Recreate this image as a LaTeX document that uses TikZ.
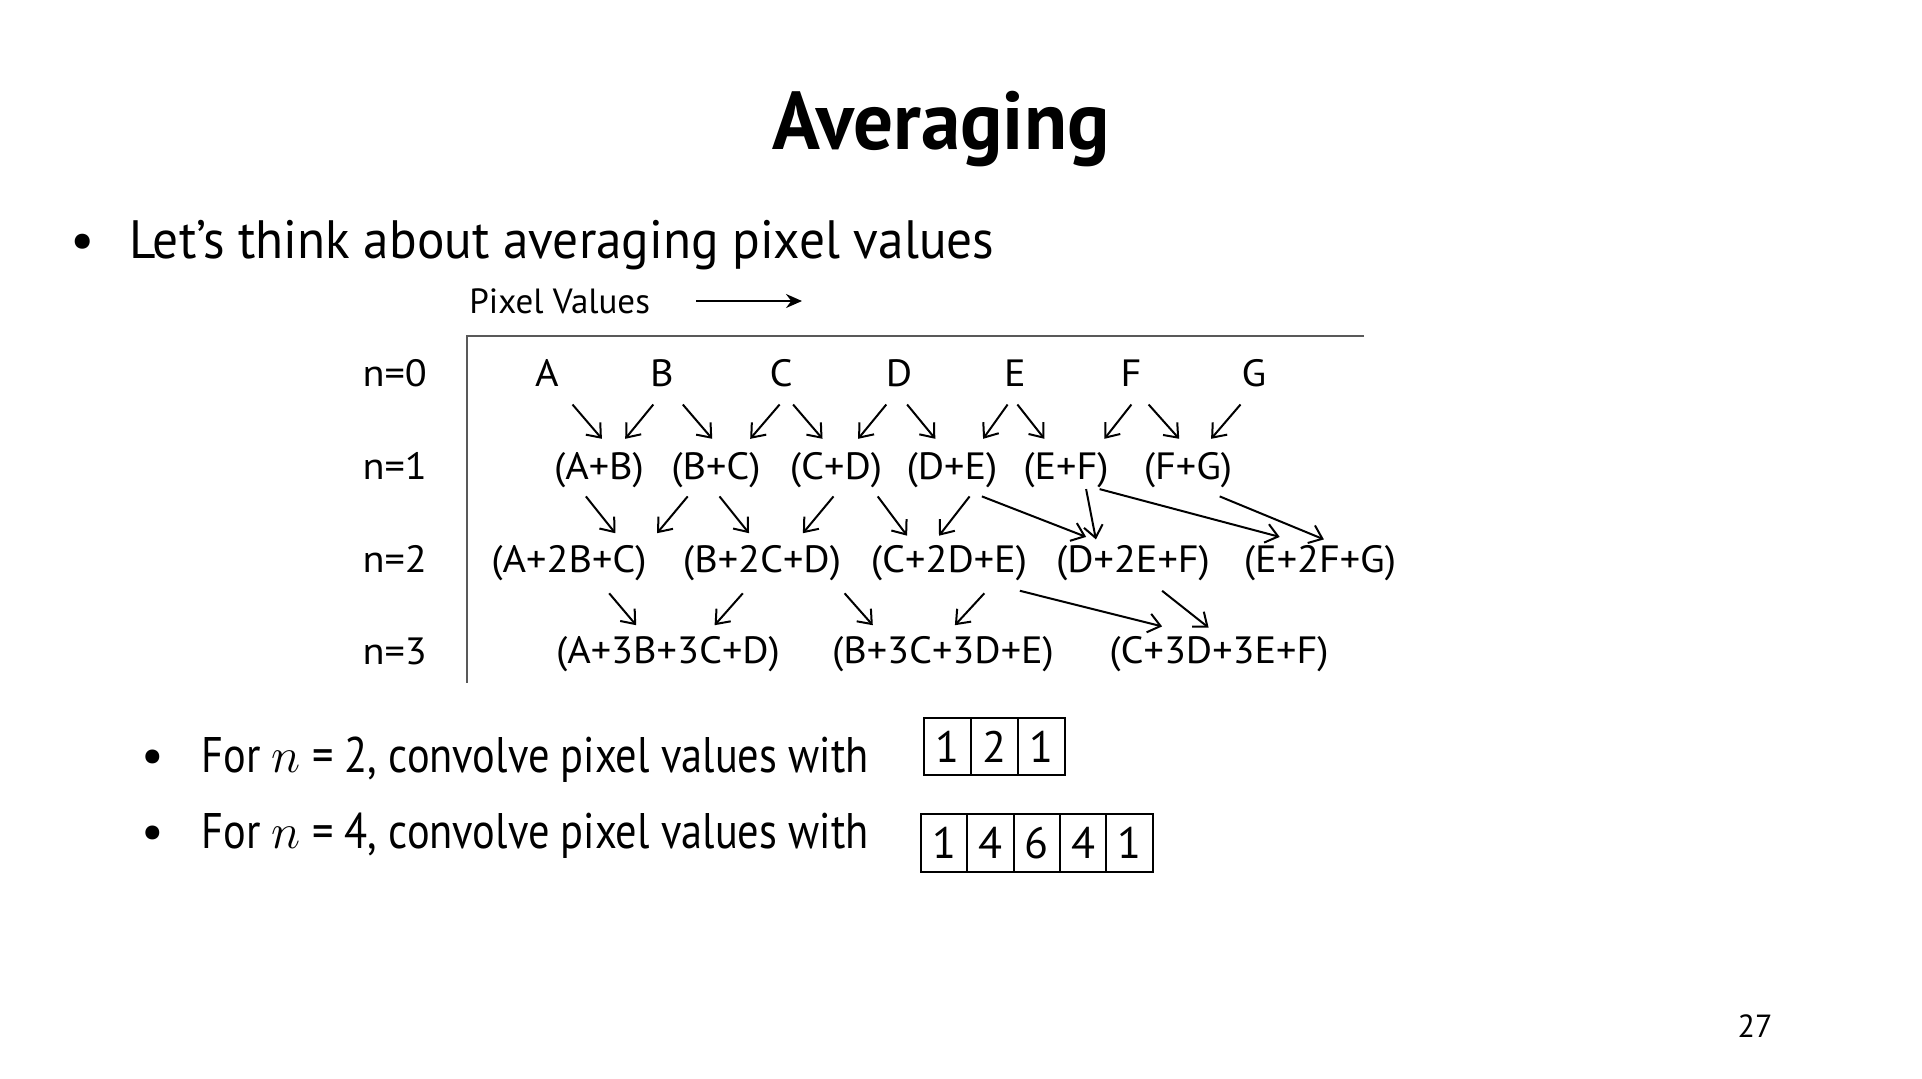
\documentclass[tikz,border=0pt]{standalone}
\usepackage{fontspec}
\setmainfont{PT Sans}
\newfontfamily\titlefont[FakeStretch=0.965]{PT Sans}
\newfontfamily\mainfontx[FakeStretch=0.95]{PT Sans}
\newfontfamily\subfont[FakeStretch=0.848]{PT Sans}
\newfontfamily\diagfont[FakeStretch=1.06]{PT Sans}
\usetikzlibrary{arrows.meta}
\begin{document}
\begin{tikzpicture}[x=0.5pt,y=-0.5pt,
  txt/.style={inner sep=0pt, anchor=base, font=\diagfont\fontsize{19}{22}\selectfont},
  bul/.style={inner sep=0pt, anchor=base west, font=\subfont\fontsize{25}{30}\selectfont},
  arr/.style={-{Straight Barb[length=6pt,width=9.5pt]}, line width=1pt},
  cell/.style={draw, line width=1pt, minimum width=23.5pt, minimum height=28.5pt, inner sep=0pt, font=\fontsize{22}{26}\selectfont}]
\useasboundingbox (0,0) rectangle (1922,1078);
% title and bullet
\node[inner sep=0pt, anchor=base, font=\titlefont\fontsize{41}{48}\selectfont\bfseries] (title) at (941,149.5) {Averaging};
\node[inner sep=0pt, anchor=base, font=\fontsize{27}{32}\selectfont] (b0) at (83,258.6) {•};
\node[inner sep=0pt, anchor=base west, font=\mainfontx\fontsize{27}{32}\selectfont] (l0) at (129,258.6) {Let’s think about averaging pixel values};
% pixel values header
\node[inner sep=0pt, anchor=base west, font=\fontsize{17.5}{20}\selectfont] (pv) at (469,313.8) {Pixel Values};
\coordinate (pva) at (696,301);
\coordinate (pvb) at (802,301);
\draw[-{Stealth[length=8pt,width=7pt]}, line width=1pt] (pva) -- (pvb);
% frame
\coordinate (fr1) at (1364,336);
\coordinate (fr0) at (467,336);
\coordinate (fr2) at (467,683);
\draw[black!65, line width=0.9pt] (fr1) -- (fr0) -- (fr2);
% row labels
\node[txt] (n0) at (394.7,386) {n=0};
\node[txt] (n1) at (394.7,479.3) {n=1};
\node[txt] (n2) at (394.7,572.4) {n=2};
\node[txt] (n3) at (394.7,664) {n=3};
% row 0
\node[txt] (A) at (547,386) {A};
\node[txt] (B) at (662,386) {B};
\node[txt] (C) at (781,386) {C};
\node[txt] (D) at (899,386) {D};
\node[txt] (E) at (1015,386) {E};
\node[txt] (F) at (1131,386) {F};
\node[txt] (G) at (1254,386) {G};
% row 1
\node[txt] (AB) at (599,479.3) {(A+B)};
\node[txt] (BC) at (716,479.3) {(B+C)};
\node[txt] (CD) at (836,479.3) {(C+D)};
\node[txt] (DE) at (952,479.3) {(D+E)};
\node[txt] (EF) at (1066,479.3) {(E+F)};
\node[txt] (FG) at (1188,479.3) {(F+G)};
% row 2
\node[txt] (ABC) at (569,572.4) {(A+2B+C)};
\node[txt] (BCD) at (762,572.4) {(B+2C+D)};
\node[txt] (CDE) at (949,572.4) {(C+2D+E)};
\node[txt] (DEF) at (1133,572.4) {(D+2E+F)};
\node[txt] (EFG) at (1320,572.4) {(E+2F+G)};
% row 3
\node[txt] (ABCD) at (668,663) {(A+3B+3C+D)};
\node[txt] (BCDE) at (943,663) {(B+3C+3D+E)};
\node[txt] (CDEF) at (1219,663) {(C+3D+3E+F)};
% arrows row 0 -> 1
\foreach \xa/\xb in {572.5/601.9, 653.3/625.2, 682.8/712.2, 779.6/750.2, 793.1/822.5, 886.3/858.1, 907.1/935.3, 1007.6/983.1, 1017.4/1044.4, 1131.4/1104.4, 1148.6/1179.2, 1240.5/1211.1}
  \draw[arr] (\xa,404.5) -- (\xb,438.8);
% arrows row 1 -> 2
\foreach \xa/\ya/\xb/\yb in {585.9/496.4/615.3/533.2, 687.7/496.4/657.0/533.2, 719.5/496.4/749.0/533.2, 833.5/496.4/802.9/533.2, 877.7/496.4/907.1/535.7, 969.6/496.4/939.0/535.7, 981.9/496.4/1086.1/536.9, 1086.1/489.1/1095.9/539.4, 1099.6/489.1/1279.7/536.9, 1219.7/496.4/1323.9/539.4}
  \draw[arr] (\xa,\ya) -- (\xb,\yb);
% arrows row 2 -> 3
\foreach \xa/\ya/\xb/\yb in {609.2/593.3/636.2/625.2, 742.8/593.3/714.6/625.2, 844.6/593.3/872.8/625.2, 984.3/593.3/954.9/625.2, 1019.9/590.8/1162.1/626.4, 1162.1/590.8/1208.6/627.6}
  \draw[arr] (\xa,\ya) -- (\xb,\yb);
% bottom bullets
\node[inner sep=0pt, anchor=base, font=\fontsize{25}{30}\selectfont] (b1) at (153,772) {•};
\node[bul] (t1) at (201,772) {For $n$ = 2, convolve pixel values with};
\node[inner sep=0pt, anchor=base, font=\fontsize{25}{30}\selectfont] (b2) at (153,848) {•};
\node[bul] (t2) at (201,848) {For $n$ = 4, convolve pixel values with};
% kernels
\node[cell] (k1) at (947.5,746.5) {1};
\node[cell] (k2) at (994.5,746.5) {2};
\node[cell] (k3) at (1041.5,746.5) {1};
\node[cell, minimum width=23.15pt, minimum height=29pt] (m1) at (944.2,843) {1};
\node[cell, minimum width=23.15pt, minimum height=29pt] (m2) at (990.5,843) {4};
\node[cell, minimum width=23.15pt, minimum height=29pt] (m3) at (1036.8,843) {6};
\node[cell, minimum width=23.15pt, minimum height=29pt] (m4) at (1083.1,843) {4};
\node[cell, minimum width=23.15pt, minimum height=29pt] (m5) at (1129.4,843) {1};
% page number
\node[inner sep=0pt, anchor=base, font=\fontsize{16}{19}\selectfont] (pg) at (1755,1037) {27};
\end{tikzpicture}
\end{document}
